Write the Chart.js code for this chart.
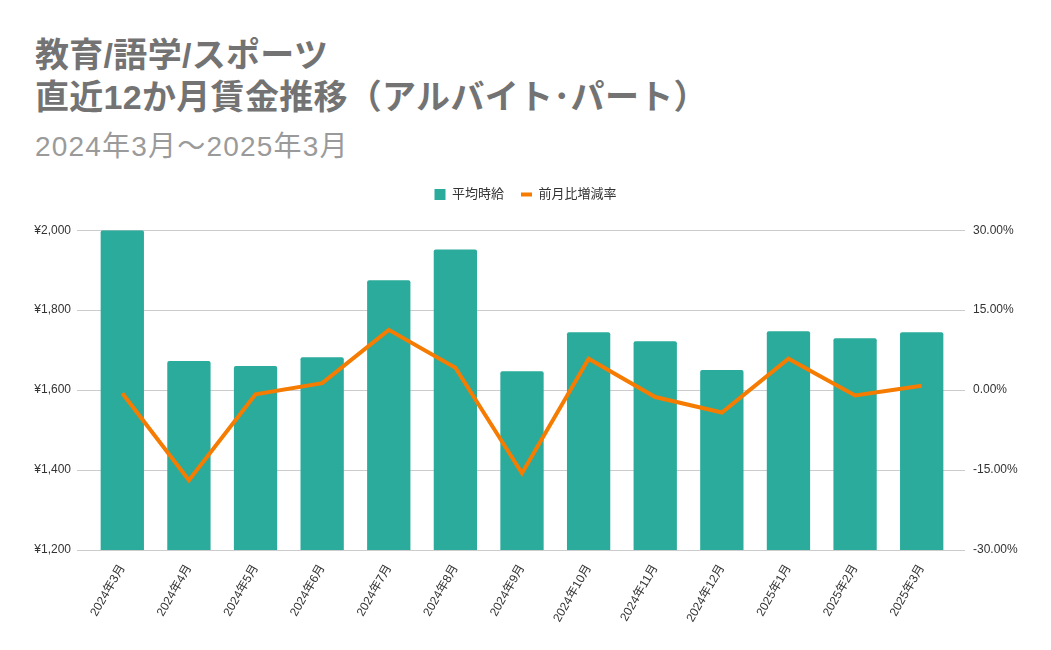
<!DOCTYPE html>
<html><head><meta charset="utf-8">
<script src="https://cdn.jsdelivr.net/npm/chart.js@4"></script>
<style>
html,body{margin:0;padding:0;background:#fff;}
#wrap{position:relative;width:1051px;height:650px;font-family:"Liberation Sans",Arial,"Noto Sans CJK JP",sans-serif;}
#t1,#t2,#sub{position:absolute;left:35px;white-space:nowrap;}
#t1,#t2{font-size:34px;line-height:42px;font-weight:bold;color:#737373;letter-spacing:0.3px;}
#t1{top:34px;} #t2{top:76px;}
#sub{top:129px;font-size:28px;line-height:36px;color:#9a9a9a;letter-spacing:1.2px;}
canvas{position:absolute;left:0;top:0;}
</style></head><body>
<div id="wrap">
<div id="t1">教育/語学/スポーツ</div>
<div id="t2">直近12か月賃金推移（アルバイト･パート）</div>
<div id="sub">2024年3月～2025年3月</div>
<canvas id="c" width="1051" height="650"></canvas>
</div>
<script>
const categories=["2024年3月","2024年4月","2024年5月","2024年6月","2024年7月","2024年8月","2024年9月","2024年10月","2024年11月","2024年12月","2025年1月","2025年2月","2025年3月"];
const wages=[2000,1673,1660,1682,1875,1952,1647,1745,1722,1650,1747,1730,1745];
const changes=[-0.6,-16.9,-0.8,1.3,11.3,4.2,-15.6,5.9,-1.3,-4.2,5.9,-1.0,0.8];
const wageTicks=[1200,1400,1600,1800,2000];
const pctTicks=[-30,-15,0,15,30];
const FONT='"Liberation Sans",Arial,"Noto Sans CJK JP",sans-serif';
const LFONT='Roboto,"Noto Sans CJK JP",sans-serif';
const gridPlugin={id:'wideGrid',beforeDatasetsDraw(chart){
  const {ctx,chartArea:a,scales}=chart;
  ctx.save();ctx.strokeStyle='#cccccc';ctx.lineWidth=1;
  wageTicks.forEach(v=>{const y=Math.round(scales.y.getPixelForValue(v))+0.5;
    ctx.beginPath();ctx.moveTo(a.left-12,y);ctx.lineTo(a.right+10,y);ctx.stroke();});
  ctx.restore();}};
new Chart(document.getElementById('c'),{
  data:{labels:categories,datasets:[
    {type:'line',label:'前月比増減率',data:changes,yAxisID:'y2',borderColor:'#f57c00',backgroundColor:'#f57c00',borderWidth:4,pointRadius:0,pointHoverRadius:0,pointStyle:'line',tension:0,order:0},
    {type:'bar',label:'平均時給',data:wages,yAxisID:'y',backgroundColor:'#2aab9b',borderRadius:{topLeft:2,topRight:2},borderSkipped:'bottom',barPercentage:0.65,categoryPercentage:1,pointStyle:'rect',order:1}
  ]},
  plugins:[gridPlugin],
  options:{responsive:false,animation:false,devicePixelRatio:1,
    layout:{padding:{top:171,left:0,right:0,bottom:0}},
    plugins:{
      legend:{position:'top',reverse:true,labels:{usePointStyle:true,boxHeight:11,pointStyleWidth:11,font:{family:LFONT,size:13},color:'#333',padding:17}},
      title:{display:true,text:' ',weight:500,font:{size:1},padding:{top:0,bottom:18}},
      tooltip:{enabled:false}
    },
    scales:{
      x:{grid:{display:false},border:{display:false},
        ticks:{minRotation:60,maxRotation:60,autoSkip:false,font:{family:FONT,size:12},color:'#333',padding:4},
        afterFit(a){a.height=100;}},
      y:{position:'left',min:1200,max:2000,
        afterBuildTicks(a){a.ticks=wageTicks.map(v=>({value:v}));},
        grid:{display:false,drawTicks:false},border:{display:false},
        ticks:{padding:18,font:{family:FONT,size:12},color:'#333',callback:v=>'¥'+v.toLocaleString('en-US')},
        afterFit(a){a.width=89;}},
      y2:{position:'right',min:-30,max:30,
        afterBuildTicks(a){a.ticks=pctTicks.map(v=>({value:v}));},
        grid:{display:false,drawTicks:false},border:{display:false},
        ticks:{padding:18,font:{family:FONT,size:12},color:'#333',callback:v=>v.toFixed(2)+'%'},
        afterFit(a){a.width=96;}}
    }
  }
});
</script>
</body></html>
